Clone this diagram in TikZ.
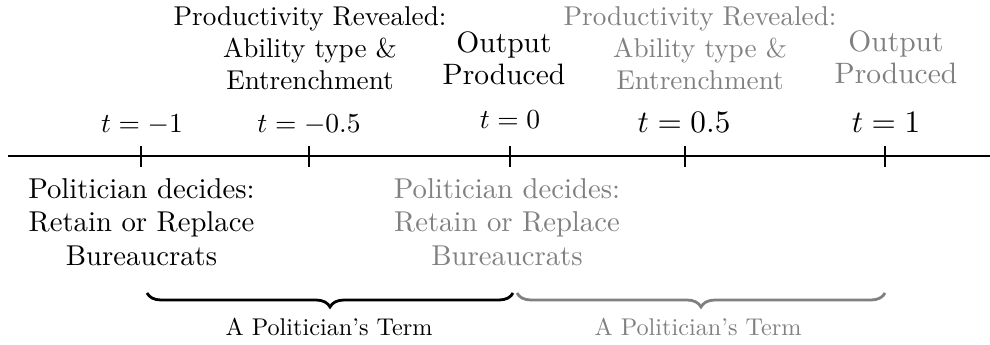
\documentclass[tikz,border=0pt]{standalone}
\usetikzlibrary{decorations.pathreplacing}
\definecolor{fadedgray}{RGB}{128,128,128}
\begin{document}
\begin{tikzpicture}[x=1pt,y=-1pt,
  lbl/.style={align=center,inner sep=0pt,outer sep=0pt},
  polit/.style={lbl,scale=2.87,font=\fontsize{10}{11.67}\selectfont},
  prod/.style={lbl,scale=2.72,font=\fontsize{10}{11.76}\selectfont},
  outp/.style={lbl,scale=2.95,font=\fontsize{10}{10.7}\selectfont},
  term/.style={lbl,scale=2.42,font=\fontsize{10}{12}\selectfont},
  tsmall/.style={lbl,anchor=base,scale=2.75,font=\fontsize{10}{12}\selectfont},
  tbig/.style={lbl,anchor=base,scale=3.12,font=\fontsize{10}{12}\selectfont},
  faded/.style={text=fadedgray},
  tickmark/.style={line width=2pt},
  axis/.style={line width=2.2pt},
  termbrace/.style={line width=2.8pt,decorate,decoration={brace,mirror,amplitude=14pt}}
]
\useasboundingbox (0,0) rectangle (990,345);
% timeline
\coordinate (L) at (8,156);
\coordinate (R) at (990,156);
\draw[axis] (L) -- (R);
\foreach \n/\x in {a/141,b/309,c/510,d/685,e/885}{
  \coordinate (\n top) at (\x,146);
  \coordinate (\n bot) at (\x,167);
  \draw[tickmark] (\n top) -- (\n bot);
}
% anchor coordinates for labels
\coordinate (pt1) at (142,132);
\coordinate (pt2) at (309,132);
\coordinate (pt3) at (510,128);
\coordinate (pt4) at (684,132);
\coordinate (pt5) at (886,132);
\coordinate (pprod1) at (310,48);
\coordinate (poutp1) at (504,58);
\coordinate (pprod2) at (700,48);
\coordinate (poutp2) at (896,57);
\coordinate (ppol1) at (141.5,222);
\coordinate (ppol2) at (507,222);
\coordinate (pterm1) at (329,327);
\coordinate (pterm2) at (698,327);
% time labels
\node[tsmall] (t1) at (pt1) {$t=-1$};
\node[tsmall] (t2) at (pt2) {$t=-0.5$};
\node[tsmall] (t3) at (pt3) {$t=0$};
\node[tbig] (t4) at (pt4) {$t=0.5$};
\node[tbig] (t5) at (pt5) {$t=1$};
% top events
\node[prod] (prod1) at (pprod1) {Productivity Revealed:\\Ability type \&\\Entrenchment};
\node[outp] (out1) at (poutp1) {Output\\Produced};
\node[prod,faded] (prod2) at (pprod2) {Productivity Revealed:\\Ability type \&\\Entrenchment};
\node[outp,faded] (out2) at (poutp2) {Output\\Produced};
% bottom events
\node[polit] (pol1) at (ppol1) {Politician decides:\\Retain or Replace\\Bureaucrats};
\node[polit,faded] (pol2) at (ppol2) {Politician decides:\\Retain or Replace\\Bureaucrats};
% braces
\coordinate (b1s) at (147,293);
\coordinate (b1e) at (513,293);
\coordinate (b2s) at (517,293);
\coordinate (b2e) at (885,293);
\draw[termbrace] (b1s) -- (b1e);
\draw[termbrace,draw=fadedgray] (b2s) -- (b2e);
\node[term] (term1) at (pterm1) {A Politician's Term};
\node[term,faded] (term2) at (pterm2) {A Politician's Term};
\end{tikzpicture}
\end{document}
